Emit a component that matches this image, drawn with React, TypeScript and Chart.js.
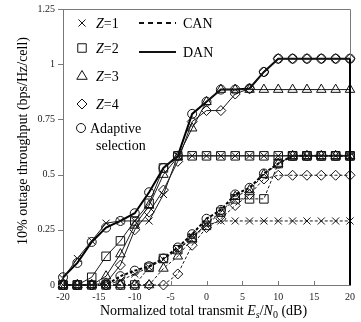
import React, { useEffect, useRef } from 'react';
import { Chart, registerables } from 'chart.js';

Chart.register(...registerables);

// ---------- data ----------
const snrDb = [-20, -18, -16, -14, -12, -10, -8, -6, -4, -2, 0, 2, 4, 6, 8, 10, 12, 14, 16, 18, 20];

// CAN (dashed)
const canZ1 = [0, 0, 0, 0, 0.02, 0.05, 0.08, 0.115, 0.16, 0.22, 0.27, 0.29, 0.29, 0.29, 0.29, 0.29, 0.29, 0.29, 0.29, 0.29, 0.29];
const canZ2 = [0, 0, 0, 0, 0, 0, 0.08, 0.12, 0.16, 0.21, 0.27, 0.33, 0.39, 0.39, 0.39, 0.55, 0.585, 0.585, 0.585, 0.585, 0.585];
const canZ3 = [0, 0, 0, 0, 0, 0, 0, 0.075, 0.13, 0.21, 0.28, 0.33, 0.4, 0.43, 0.5, 0.55, 0.585, 0.585, 0.585, 0.585, 0.585];
const canZ4 = [0, 0, 0, 0, 0, 0, 0, 0, 0.05, 0.18, 0.26, 0.3, 0.36, 0.41, 0.48, 0.497, 0.497, 0.497, 0.497, 0.497, 0.497];
const canAdaptive = [0, 0, 0, 0, 0.04, 0.065, 0.085, 0.12, 0.17, 0.23, 0.3, 0.34, 0.41, 0.44, 0.505, 0.55, 0.585, 0.585, 0.585, 0.585, 0.585];

// DAN (solid)
const danZ1 = [0.03, 0.12, 0.2, 0.28, 0.29, 0.29, 0.29, 0.41, 0.585, 0.585, 0.585, 0.585, 0.585, 0.585, 0.585, 0.585, 0.585, 0.585, 0.585, 0.585, 0.585];
const danZ2 = [0, 0, 0.035, 0.13, 0.2, 0.29, 0.37, 0.53, 0.585, 0.585, 0.585, 0.585, 0.585, 0.585, 0.585, 0.585, 0.585, 0.585, 0.585, 0.585, 0.585];
const danZ3 = [0, 0, 0, 0.04, 0.14, 0.27, 0.36, 0.5, 0.58, 0.71, 0.83, 0.885, 0.885, 0.885, 0.885, 0.885, 0.885, 0.885, 0.885, 0.885, 0.885];
const danZ4 = [0, 0, 0, 0.01, 0.09, 0.25, 0.33, 0.43, 0.56, 0.74, 0.79, 0.79, 0.865, 0.89, 0.965, 1.025, 1.025, 1.025, 1.025, 1.025, 1.025];
const danAdaptive = [0.035, 0.1, 0.195, 0.26, 0.29, 0.325, 0.42, 0.53, 0.585, 0.775, 0.83, 0.885, 0.885, 0.89, 0.965, 1.025, 1.025, 1.025, 1.025, 1.025, 1.025];

const xTicks = [-20, -15, -10, -5, 0, 5, 10, 15, 20];
const yTicks = [0, 0.25, 0.5, 0.75, 1, 1.25];
const yTickLabels = ['0', '0.25', '0.5', '0.75', '1', '1.25'];

const legendZ = ['1', '2', '3', '4'];
const legendStyles = ['crossRot', 'rect', 'triangle', 'rectRot'];
const legendAdaptive = ['Adaptive', 'selection'];
const legendSchemes = ['CAN', 'DAN'];
const yTitle = '10% outage throughput (bps/Hz/cell)';
const xTitlePrefix = 'Normalized total transmit ';

const FONT = "'Liberation Serif', 'Times New Roman', serif";

const radii: Record<string, number> = { crossRot: 5, rect: 6, triangle: 5.5, rectRot: 5, circle: 4.5 };

function drawMarker(ctx: CanvasRenderingContext2D, style: string, x: number, y: number) {
  const r = radii[style];
  ctx.beginPath();
  if (style === 'circle') {
    ctx.arc(x, y, r, 0, Math.PI * 2);
  } else if (style === 'rect') {
    const s = r * Math.SQRT1_2;
    ctx.rect(x - s, y - s, 2 * s, 2 * s);
  } else if (style === 'triangle') {
    ctx.moveTo(x, y - r);
    ctx.lineTo(x + r * 0.95, y + r * 0.6);
    ctx.lineTo(x - r * 0.95, y + r * 0.6);
    ctx.closePath();
  } else if (style === 'rectRot') {
    ctx.moveTo(x, y - r);
    ctx.lineTo(x + r, y);
    ctx.lineTo(x, y + r);
    ctx.lineTo(x - r, y);
    ctx.closePath();
  } else if (style === 'crossRot') {
    const s = r * Math.SQRT1_2;
    ctx.moveTo(x - s, y - s);
    ctx.lineTo(x + s, y + s);
    ctx.moveTo(x + s, y - s);
    ctx.lineTo(x - s, y + s);
  }
  ctx.stroke();
}

function series(data: number[], style: string, dashed: boolean, adaptive: boolean) {
  return {
    data: snrDb.map((x, i) => ({ x, y: data[i] })),
    borderColor: adaptive ? '#000' : '#1a1a1a',
    borderWidth: adaptive ? 2 : 1,
    borderDash: dashed ? [3, 2] : [],
    pointStyle: style,
    pointRadius: radii[style],
    pointBorderColor: '#111',
    pointBackgroundColor: 'rgba(0,0,0,0)',
    pointBorderWidth: 1,
    tension: 0,
    fill: false,
    clip: false as any,
  };
}

const decor = {
  id: 'decor',
  afterDraw(chart: any) {
    const { ctx, chartArea, scales } = chart;
    const { left, right, top, bottom } = chartArea;
    const xs = scales.x;
    const ys = scales.y;
    ctx.save();
    // frame
    ctx.strokeStyle = '#7a7a7a';
    ctx.lineWidth = 1;
    ctx.setLineDash([]);
    ctx.beginPath();
    ctx.moveTo(left, top + 0.5);
    ctx.lineTo(right + 0.5, top + 0.5);
    ctx.lineTo(right + 0.5, bottom);
    ctx.stroke();
    // y outward ticks
    ctx.beginPath();
    yTicks.forEach((v) => {
      const py = Math.round(ys.getPixelForValue(v)) + 0.5;
      ctx.moveTo(left - 5, py);
      ctx.lineTo(left, py);
    });
    // x inward ticks
    xTicks.forEach((v) => {
      const px = Math.round(xs.getPixelForValue(v)) + 0.5;
      ctx.moveTo(px, bottom);
      ctx.lineTo(px, bottom - 4);
    });
    ctx.stroke();
    // dark drop line at the last SNR point
    const lx = xs.getPixelForValue(snrDb[snrDb.length - 1]);
    ctx.strokeStyle = '#000';
    ctx.lineWidth = 2;
    ctx.beginPath();
    ctx.moveTo(lx, ys.getPixelForValue(danAdaptive[danAdaptive.length - 1]));
    ctx.lineTo(lx, ys.getPixelForValue(0));
    ctx.stroke();

    // legend
    ctx.strokeStyle = '#111';
    ctx.fillStyle = '#000';
    ctx.lineWidth = 1;
    ctx.textBaseline = 'alphabetic';
    ctx.textAlign = 'left';
    const rowsY = [23, 48, 76, 104];
    legendZ.forEach((z, i) => {
      drawMarker(ctx, legendStyles[i], 82, rowsY[i]);
      ctx.font = `italic 14px ${FONT}`;
      ctx.fillText('Z', 96, rowsY[i] + 5);
      const zw = ctx.measureText('Z').width;
      ctx.font = `14px ${FONT}`;
      ctx.fillText('=' + z, 96 + zw, rowsY[i] + 5);
    });
    drawMarker(ctx, 'circle', 81, 128);
    ctx.font = `14px ${FONT}`;
    ctx.fillText(legendAdaptive[0], 90, 133);
    ctx.fillText(legendAdaptive[1], 96, 150);
    // CAN / DAN samples
    ctx.lineWidth = 2;
    ctx.setLineDash([5, 4]);
    ctx.beginPath();
    ctx.moveTo(139, 23);
    ctx.lineTo(176, 23);
    ctx.stroke();
    ctx.setLineDash([]);
    ctx.beginPath();
    ctx.moveTo(139, 52);
    ctx.lineTo(176, 52);
    ctx.stroke();
    ctx.fillText(legendSchemes[0], 183, 28);
    ctx.fillText(legendSchemes[1], 183, 57);

    // y title
    ctx.save();
    ctx.translate(22, 141);
    ctx.rotate(-Math.PI / 2);
    ctx.textAlign = 'center';
    ctx.font = `14px ${FONT}`;
    ctx.fillText(yTitle, 0, 5);
    ctx.restore();

    // x title with sub/italics
    const parts: { t: string; font: string; dy: number }[] = [
      { t: xTitlePrefix, font: `14px ${FONT}`, dy: 0 },
      { t: 'E', font: `italic 14px ${FONT}`, dy: 0 },
      { t: 's', font: `italic 10px ${FONT}`, dy: 3 },
      { t: '/', font: `14px ${FONT}`, dy: 0 },
      { t: 'N', font: `italic 14px ${FONT}`, dy: 0 },
      { t: '0', font: `10px ${FONT}`, dy: 3 },
      { t: ' (dB)', font: `14px ${FONT}`, dy: 0 },
    ];
    let total = 0;
    parts.forEach((p) => {
      ctx.font = p.font;
      total += ctx.measureText(p.t).width;
    });
    let cx = (left + right) / 2 - 3 - total / 2;
    const by = 315;
    parts.forEach((p) => {
      ctx.font = p.font;
      ctx.fillText(p.t, cx, by + p.dy);
      cx += ctx.measureText(p.t).width;
    });
    ctx.restore();
  },
};

export default function App() {
  const ref = useRef<HTMLCanvasElement | null>(null);
  useEffect(() => {
    if (!ref.current) return;
    Chart.defaults.font.family = FONT;
    const chart = new Chart(ref.current, {
      type: 'line',
      data: {
        datasets: [
          series(canZ1, 'crossRot', true, false),
          series(canZ2, 'rect', true, false),
          series(canZ3, 'triangle', true, false),
          series(canZ4, 'rectRot', true, false),
          series(canAdaptive, 'circle', true, true),
          series(danZ1, 'crossRot', false, false),
          series(danZ2, 'rect', false, false),
          series(danZ3, 'triangle', false, false),
          series(danZ4, 'rectRot', false, false),
          series(danAdaptive, 'circle', false, true),
        ] as any,
      },
      options: {
        animation: false,
        responsive: false,
        devicePixelRatio: 1,
        layout: { padding: { left: 0, top: 9, right: 6, bottom: 0 } },
        plugins: { legend: { display: false }, tooltip: { enabled: false } },
        scales: {
          x: {
            type: 'linear',
            min: -20,
            max: 20,
            afterBuildTicks: (s: any) => {
              s.ticks = xTicks.map((v) => ({ value: v }));
            },
            afterFit: (s: any) => {
              s.height = 37;
            },
            grid: { display: false, drawTicks: false },
            border: { display: true, color: '#777', width: 1 },
            ticks: {
              padding: 6,
              color: '#222',
              font: { size: 10, family: FONT },
              maxRotation: 0,
              callback: (v: any) => String(v),
            },
          },
          y: {
            type: 'linear',
            min: 0,
            max: 1.25,
            afterBuildTicks: (s: any) => {
              s.ticks = yTicks.map((v) => ({ value: v }));
            },
            afterFit: (s: any) => {
              s.width = 63;
            },
            grid: { display: false, drawTicks: true, tickLength: 5 },
            border: { display: true, color: '#777', width: 1 },
            ticks: {
              padding: 3,
              color: '#222',
              font: { size: 10, family: FONT },
              callback: (v: any) => {
                const i = yTicks.indexOf(Number(v));
                return i >= 0 ? yTickLabels[i] : '';
              },
            },
          },
        },
      },
      plugins: [decor],
    });
    return () => chart.destroy();
  }, []);
  return (
    <div style={{ position: 'fixed', left: 0, top: 0, width: 361, height: 322, background: '#fff' }}>
      <canvas ref={ref} width={361} height={322} style={{ width: 361, height: 322, display: 'block' }} />
    </div>
  );
}
